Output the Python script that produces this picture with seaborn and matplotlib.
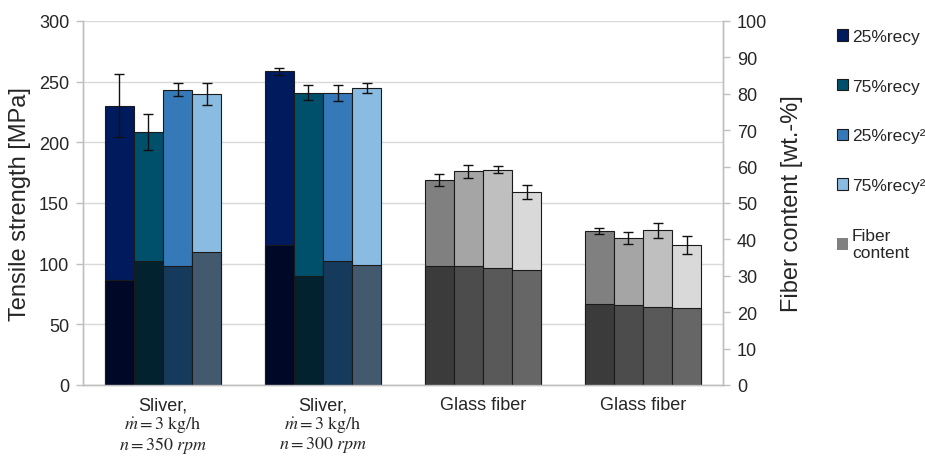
import numpy as np
import pandas as pd
import matplotlib
matplotlib.use("Agg")
import matplotlib.pyplot as plt
from matplotlib.patches import Patch
import seaborn as sns

# ---------------- data ----------------
series = ["25%recy", "75%recy", "25%recy²", "75%recy²"]
categories = ["sliver_350", "sliver_300", "glass_a", "glass_b"]
category_labels = [
    "Sliver,\n$\\dot{m} = 3\\ \\mathrm{kg/h}$\n$n = 350\\ rpm$",
    "Sliver,\n$\\dot{m} = 3\\ \\mathrm{kg/h}$\n$n = 300\\ rpm$",
    "Glass fiber",
    "Glass fiber",
]
material = ["sliver", "sliver", "glass", "glass"]

strength_sliver_350 = [230.0, 208.5, 243.5, 239.5]
strength_sliver_300 = [258.5, 241.0, 240.5, 245.0]
strength_glass_a = [169.0, 176.0, 177.5, 159.0]
strength_glass_b = [127.0, 121.5, 127.5, 115.5]

error_sliver_350 = [26.0, 14.5, 5.5, 9.0]
error_sliver_300 = [3.0, 6.0, 6.5, 4.0]
error_glass_a = [5.0, 5.5, 3.0, 5.5]
error_glass_b = [2.7, 5.0, 6.0, 7.3]

fiber_sliver_350 = [28.8, 34.2, 32.7, 36.6]
fiber_sliver_300 = [38.5, 30.0, 34.0, 33.1]
fiber_glass_a = [32.7, 32.6, 32.1, 31.6]
fiber_glass_b = [22.2, 22.1, 21.5, 21.2]

strength = [strength_sliver_350, strength_sliver_300, strength_glass_a, strength_glass_b]
errors = [error_sliver_350, error_sliver_300, error_glass_a, error_glass_b]
fiber = [fiber_sliver_350, fiber_sliver_300, fiber_glass_a, fiber_glass_b]

# ---------------- styling ----------------
blue_top = ["#001A5E", "#004F6B", "#3579B8", "#8ABBE0"]
blue_bottom = ["#000828", "#02222F", "#163A5C", "#43596E"]
gray_top = ["#808080", "#A5A5A5", "#BFBFBF", "#D9D9D9"]
gray_bottom = ["#3B3B3B", "#4C4C4C", "#595959", "#666666"]
fiber_legend_color = "#808080"

sns.set_theme(style="white")
plt.rcParams["font.family"] = ["Liberation Sans", "DejaVu Sans"]
plt.rcParams["mathtext.fontset"] = "stix"

rows = []
for ci, cat in enumerate(categories):
    for si, s in enumerate(series):
        rows.append(dict(cat=cat, material=material[ci], series=s,
                         strength=strength[ci][si], fiber=fiber[ci][si]))
df = pd.DataFrame(rows)

fig = plt.figure(figsize=(9.25, 4.6), dpi=100)
ax = fig.add_axes([83 / 925, 1 - 386 / 460, (723 - 83) / 925, (386 - 22) / 460])
ax2 = ax.twinx()

edge = "#1A1A1A"
common = dict(x="cat", hue="series", order=categories, hue_order=series,
              width=0.73, saturation=1, edgecolor=edge, linewidth=0.8,
              legend=False, errorbar=None)

for mat, tops, bottoms in [("sliver", blue_top, blue_bottom), ("glass", gray_top, gray_bottom)]:
    sub = df[df["material"] == mat]
    sns.barplot(data=sub, y="strength", palette=tops, ax=ax, **common)
    sns.barplot(data=sub, y="fiber", palette=bottoms, ax=ax2, **common)

# error bars located from the drawn bars
xs, ys, es = [], [], []
for bar in ax.patches:
    h = bar.get_height()
    if not np.isfinite(h) or h == 0:
        continue
    cx = bar.get_x() + bar.get_width() / 2
    ci = int(round(cx))
    for si in range(len(series)):
        if np.isclose(strength[ci][si], h):
            xs.append(cx); ys.append(h); es.append(errors[ci][si])
            break
ax.errorbar(xs, ys, yerr=es, fmt="none", ecolor="#111111", elinewidth=1.0,
            capsize=3.3, capthick=1.0, zorder=5)

# axes
grid_c = "#D9D9D9"
spine_c = "#BFBFBF"
ax.set_ylim(0, 300)
ax.set_yticks(np.arange(0, 301, 50))
ax2.set_ylim(0, 100)
ax2.set_yticks(np.arange(0, 101, 10))
ax.set_xlim(-0.5, 3.5)
ax.yaxis.grid(True, color=grid_c, linewidth=1.0)
ax.set_axisbelow(True)

ax.set_xticks(range(len(categories)))
ax.set_xticklabels(category_labels, fontsize=13, linespacing=1.0)
ax.set_xticks(np.arange(-0.5, len(categories), 1.0), minor=True)
ax.tick_params(axis="x", which="major", length=0, pad=8)
ax.tick_params(axis="x", which="minor", length=5, color=spine_c, width=1)
ax.tick_params(axis="y", length=5, color=spine_c, width=1, labelsize=13, pad=5, left=True)
ax2.tick_params(axis="y", length=5, color=spine_c, width=1, labelsize=13, pad=5, right=True)

ax.set_xlabel("")
ax.set_ylabel("Tensile strength [MPa]", fontsize=17, labelpad=6)
ax2.set_ylabel("Fiber content [wt.-%]", fontsize=17, labelpad=10)

for a in (ax, ax2):
    for side in ("left", "right", "bottom"):
        a.spines[side].set_color(spine_c)
        a.spines[side].set_linewidth(1.0)
    a.spines["top"].set_visible(False)

handles = [Patch(facecolor=c, edgecolor=edge, linewidth=0.8) for c in blue_top]
handles.append(Patch(facecolor=fiber_legend_color, edgecolor="none"))
labels = series + ["Fiber\ncontent"]
fig.legend(handles, labels, loc="upper left", bbox_to_anchor=(837 / 925, 1 - 30 / 460),
           frameon=False, fontsize=12.5, handlelength=0.65, handleheight=0.65,
           handletextpad=0.2, labelspacing=2.0, borderaxespad=0, borderpad=0)

fig.savefig("out.png", dpi=100)
